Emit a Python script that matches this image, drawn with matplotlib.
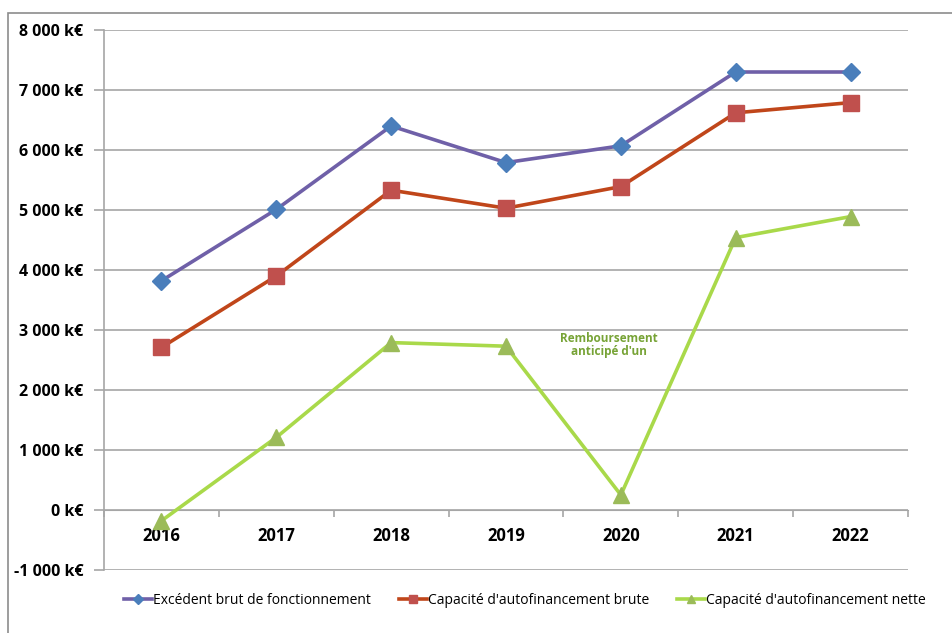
import matplotlib
matplotlib.use("Agg")
import matplotlib.pyplot as plt
from matplotlib import font_manager
from matplotlib.lines import Line2D
from matplotlib.patches import Rectangle
import numpy as np

years = ["2016", "2017", "2018", "2019", "2020", "2021", "2022"]
ebf = [3820, 5010, 6400, 5790, 6070, 7300, 7300]
caf_brute = [2710, 3900, 5330, 5030, 5390, 6620, 6790]
caf_nette = [-180, 1210, 2790, 2730, 250, 4540, 4890]
series_names = ["Excédent brut de fonctionnement",
                "Capacité d'autofinancement brute",
                "Capacité d'autofinancement nette"]
y_ticks = [-1000, 0, 1000, 2000, 3000, 4000, 5000, 6000, 7000, 8000]
note = "Remboursement\nanticipé d'un"

available = {f.name for f in font_manager.fontManager.ttflist}
main_font = "Open Sans" if "Open Sans" in available else "DejaVu Sans"
narrow_font = "Liberation Sans Narrow" if "Liberation Sans Narrow" in available else main_font
plt.rcParams["font.family"] = [main_font, "DejaVu Sans"]

grid_col = "#a6a6a6"

fig = plt.figure(figsize=(9.52, 6.33), dpi=100)
ax = fig.add_axes([104 / 952, 1 - 570 / 633, 804 / 952, 540 / 633])

# outer frame of the chart area (runs off the right and bottom edges)
fig.patches.append(Rectangle((8 / 952, -0.1), 1.2, 1 - 13 / 633 + 0.1,
                             transform=fig.transFigure, fill=False,
                             edgecolor="#8c8c8c", lw=1.2))

x = np.arange(len(years))
ax.plot(x, ebf, color="#6f60a8", lw=2.6, marker="D", ms=9,
        mfc="#4a7ebb", mec="#4a7ebb", zorder=5)
ax.plot(x, caf_brute, color="#c0461a", lw=2.6, marker="s", ms=11.5,
        mfc="#c0504d", mec="#c0504d", zorder=5)
ax.plot(x, caf_nette, color="#a9d94a", lw=2.6, marker="^", ms=11,
        mfc="#9bbb59", mec="#9bbb59", zorder=5)

ax.set_xlim(-0.5, len(years) - 0.5)
ax.set_ylim(-1000, 8000)
ax.set_yticks(y_ticks)
ax.set_yticklabels([f"{v:,} k€".replace(",", " ") for v in y_ticks],
                   fontweight="bold", fontsize=11.5)
ax.yaxis.grid(True, color=grid_col, lw=1.2)
ax.tick_params(axis="y", length=7, color=grid_col, width=1.2, pad=8)

# category axis sits on the zero line
ax.spines["bottom"].set_position(("data", 0))
ax.spines["bottom"].set_color(grid_col)
ax.spines["left"].set_color(grid_col)
ax.spines["left"].set_linewidth(1.2)
ax.spines["top"].set_visible(False)
ax.spines["right"].set_visible(False)
ax.set_xticks(x)
ax.set_xticklabels(years, fontweight="bold", fontsize=12)
ax.set_xticks(np.arange(len(years) + 1) - 0.5, minor=True)
ax.tick_params(axis="x", which="major", length=0, pad=12)
ax.tick_params(axis="x", which="minor", length=5, color=grid_col, width=1.2)
ax.set_axisbelow(True)

ax.text(4 - 0.1, 2750, note, ha="center", va="center", fontsize=8.5,
        fontweight="bold", color="#77a336", linespacing=1.0,
        family=[narrow_font, "DejaVu Sans"])

handles = [
    Line2D([], [], color="#6f60a8", lw=2.6, marker="D", ms=5, mfc="#4a7ebb", mec="#4a7ebb"),
    Line2D([], [], color="#c0461a", lw=2.6, marker="s", ms=6, mfc="#c0504d", mec="#c0504d"),
    Line2D([], [], color="#a9d94a", lw=2.6, marker="^", ms=6, mfc="#9bbb59", mec="#9bbb59"),
]
fig.legend(handles, series_names, loc="center", bbox_to_anchor=(525 / 952, 1 - 600 / 633),
           ncol=3, frameon=False, handlelength=2.0, handletextpad=0.1,
           columnspacing=2.0, prop={"family": [narrow_font, "DejaVu Sans"], "size": 10})

fig.savefig("out.png", dpi=100)
